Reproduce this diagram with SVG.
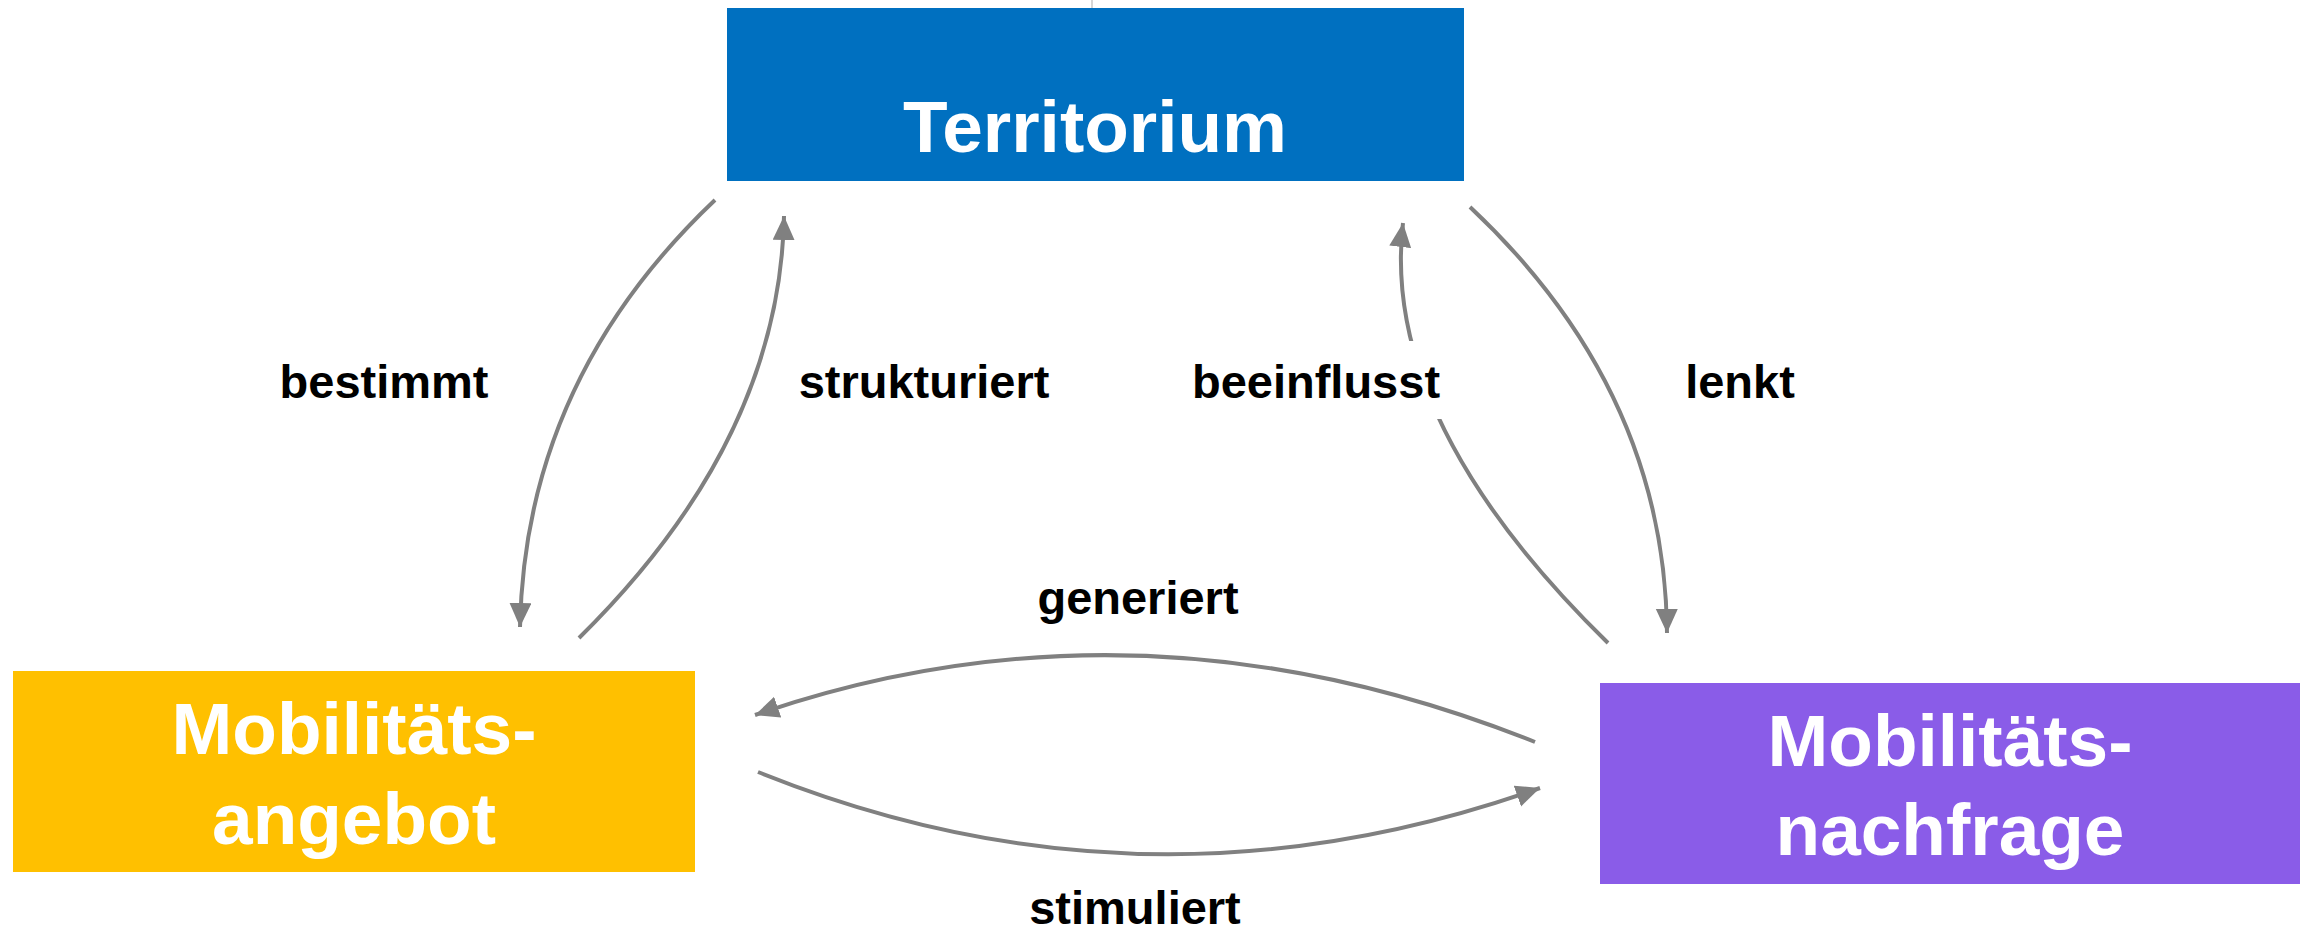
<svg xmlns="http://www.w3.org/2000/svg" width="2300" height="930" viewBox="0 0 2300 930">
  <style>
    .node-text { font-family: "Liberation Sans", Arial, sans-serif; font-weight: bold; font-size: 73px; fill: #ffffff; text-anchor: middle; }
    .label { font-family: "Liberation Sans", Arial, sans-serif; font-weight: bold; font-size: 47px; fill: #000000; text-anchor: middle; }
    .conn { fill: none; stroke: #808080; stroke-width: 4; marker-end: url(#arrow); }
  </style>
  <defs>
    <marker id="arrow" markerUnits="userSpaceOnUse" markerWidth="26" markerHeight="24" refX="24" refY="11" orient="auto">
      <path d="M0,0 L24,11 L0,22 z" fill="#808080"/>
    </marker>
    <mask id="gapMask" maskUnits="userSpaceOnUse" x="0" y="0" width="2300" height="930">
      <rect x="0" y="0" width="2300" height="930" fill="#ffffff"/>
      <rect x="1380" y="341" width="90" height="78" fill="#000000"/>
    </mask>
  </defs>
  <rect x="0" y="0" width="2300" height="930" fill="#ffffff"/>
  <line x1="1092" y1="0" x2="1092" y2="8" stroke="#c8c8c8" stroke-width="1.5"/>

  <g id="connectors">
    <path id="c-bestimmt" class="conn" d="M715,200 Q525,380 520,627"/>
    <path id="c-strukturiert" class="conn" d="M579,638 Q780,440 784,216"/>
    <path id="c-lenkt" class="conn" d="M1470,207 Q1665,390 1667,633"/>
    <path id="c-beeinflusst" class="conn" mask="url(#gapMask)" d="M1608,643 Q1380,420 1403,223"/>
    <path id="c-generiert" class="conn" d="M1535,742 Q1137,583 755,715"/>
    <path id="c-stimuliert" class="conn" d="M758,772 Q1145,928 1540,788"/>
  </g>

  <g id="labels">
    <text class="label" x="384" y="398">bestimmt</text>
    <text class="label" x="924" y="398">strukturiert</text>
    <text class="label" x="1316" y="398">beeinflusst</text>
    <text class="label" x="1740" y="398">lenkt</text>
    <text class="label" x="1138" y="614">generiert</text>
    <text class="label" x="1135" y="924">stimuliert</text>
  </g>

  <g id="territorium">
    <rect x="727" y="8" width="737" height="173" fill="#0070C0"/>
    <text class="node-text" x="1095" y="152">Territorium</text>
  </g>
  <g id="mobilitaetsangebot">
    <rect x="13" y="671" width="682" height="201" fill="#FFC000"/>
    <text class="node-text" x="354" y="754">Mobilitäts-</text>
    <text class="node-text" x="354" y="844">angebot</text>
  </g>
  <g id="mobilitaetsnachfrage">
    <rect x="1600" y="683" width="700" height="201" fill="#8A5CE8"/>
    <text class="node-text" x="1950" y="766">Mobilitäts-</text>
    <text class="node-text" x="1950" y="855">nachfrage</text>
  </g>
</svg>
